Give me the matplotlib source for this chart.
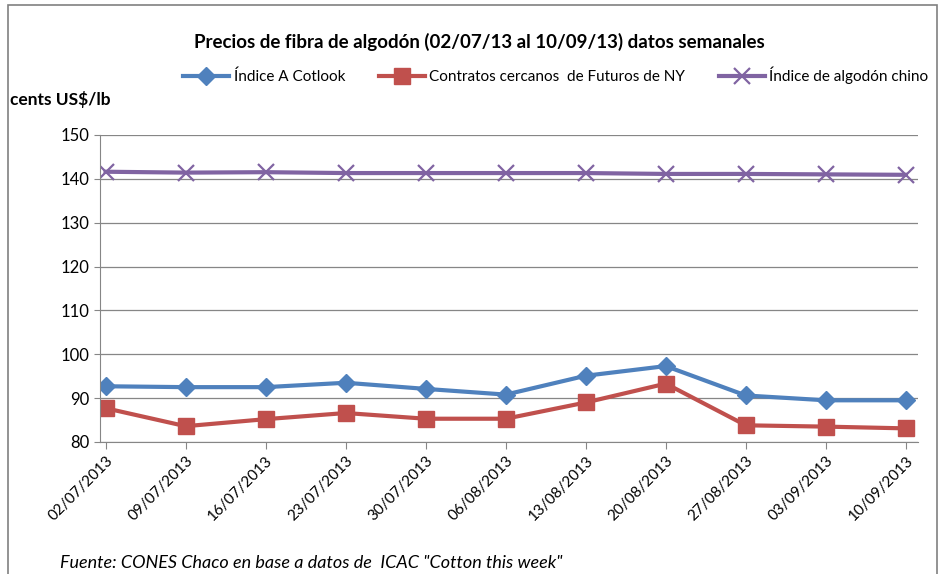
import matplotlib.pyplot as plt
from matplotlib.patches import Rectangle

plt.rcParams['font.family'] = ['Lato', 'DejaVu Sans']

fechas = ["02/07/2013", "09/07/2013", "16/07/2013", "23/07/2013", "30/07/2013",
          "06/08/2013", "13/08/2013", "20/08/2013", "27/08/2013", "03/09/2013",
          "10/09/2013"]
indice_a = [92.7, 92.5, 92.5, 93.5, 92.1, 90.8, 95.1, 97.3, 90.6, 89.5, 89.5]
futuros_ny = [87.7, 83.6, 85.2, 86.6, 85.3, 85.3, 89.0, 93.3, 83.8, 83.5, 83.1]
indice_chino = [141.6, 141.4, 141.5, 141.3, 141.3, 141.3, 141.3, 141.1, 141.1, 141.0, 140.9]

azul = '#4F81BD'
rojo = '#C0504D'
violeta = '#8064A2'

fig = plt.figure(figsize=(9.39, 5.74), dpi=100)
ax = fig.add_axes([0.1065, 0.23, 0.871, 0.535])

x = list(range(len(fechas)))
ax.plot(x, indice_a, color=azul, lw=3, marker='D', ms=9, label='Índice A Cotlook')
ax.plot(x, futuros_ny, color=rojo, lw=3, marker='s', ms=11,
        label='Contratos cercanos  de Futuros de NY')
ax.plot(x, indice_chino, color=violeta, lw=3, marker='x', ms=11, mew=1.6,
        label='Índice de algodón chino')

ax.set_ylim(80, 150)
ax.set_yticks(range(80, 151, 10))
ax.set_xlim(-0.07, 10.15)
ax.set_xticks(x)
ax.set_xticklabels(fechas, rotation=45, ha='right', rotation_mode='anchor', fontsize=11)
ax.tick_params(axis='y', labelsize=12, length=4, color='#868686')
ax.tick_params(axis='x', length=5, color='#868686')
ax.yaxis.grid(True, color='#868686', lw=0.9)
ax.set_axisbelow(True)
for s in ['top', 'right']:
    ax.spines[s].set_visible(False)
for s in ['left', 'bottom']:
    ax.spines[s].set_color('#868686')

fig.text(0.51, 0.927, 'Precios de fibra de algodón (02/07/13 al 10/09/13) datos semanales',
         ha='center', va='center', fontsize=13.5, fontweight='bold')
fig.text(0.011, 0.826, 'cents US$/lb', ha='left', va='center', fontsize=12.5, fontweight='bold')
fig.text(0.064, 0.02, 'Fuente: CONES Chaco en base a datos de  ICAC "Cotton this week"',
         ha='left', va='center', fontsize=13, style='italic')

fig.legend(loc='center', bbox_to_anchor=(0.592, 0.869), ncol=3, frameon=False,
           fontsize=11, handlelength=3, columnspacing=2.2, handletextpad=0.3)

fig.patches.append(Rectangle((0.009, -0.1), 0.989, 1.092, transform=fig.transFigure,
                             fill=False, edgecolor='#808080', lw=1.2))

fig.savefig('out.png', dpi=100)
